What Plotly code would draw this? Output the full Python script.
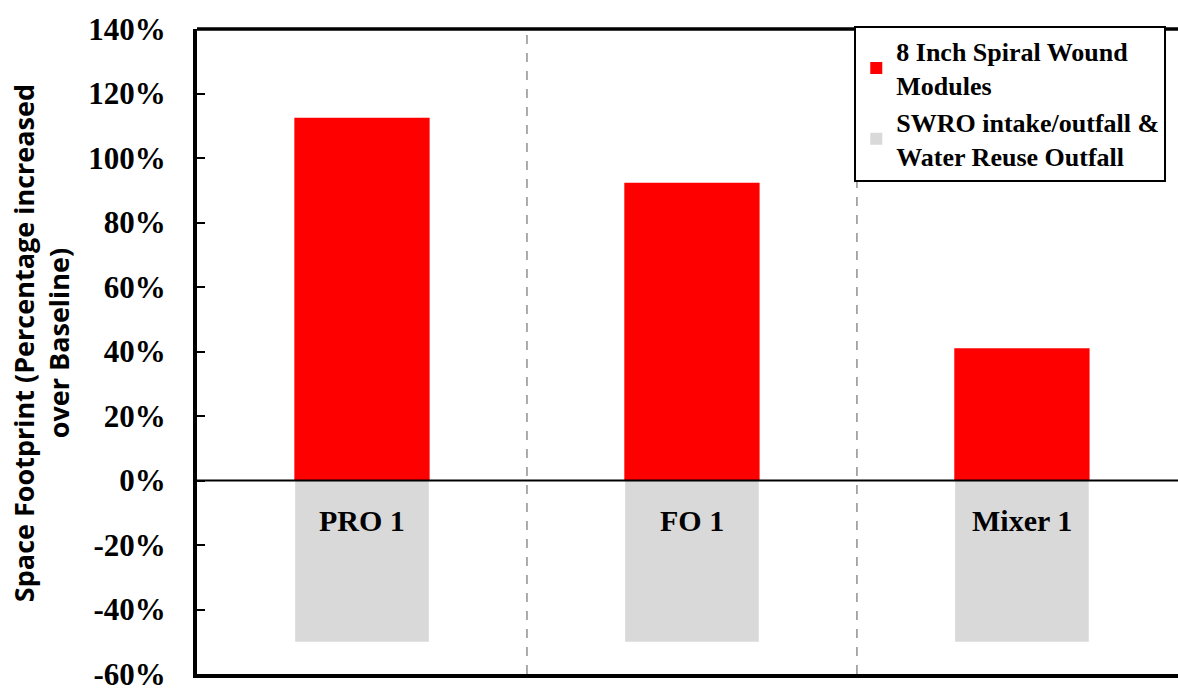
import plotly.graph_objects as go

categories = ["PRO 1", "FO 1", "Mixer 1"]
modules = [112.5, 92.3, 41.0]
intake = [-50.0, -50.0, -50.0]
yticks = [-60, -40, -20, 0, 20, 40, 60, 80, 100, 120, 140]
ytick_text = [f"{v}%" for v in yticks]

xs = list(range(len(categories)))

fig = go.Figure()
fig.add_trace(go.Bar(x=xs, y=modules, width=0.41, marker_color="#FF0000",
                     marker_line_width=0,
                     name="8 Inch Spiral Wound<br>Modules"))
fig.add_trace(go.Bar(x=xs, y=intake, width=0.405, marker_color="#D9D9D9",
                     marker_line_width=0,
                     name="SWRO intake/outfall &amp;<br>Water Reuse Outfall"))

for i, c in enumerate(categories):
    fig.add_annotation(x=i, y=-12.5, text=f"<b>{c}</b>", showarrow=False,
                       font=dict(family="Liberation Serif", size=30, color="black"),
                       xanchor="center", yanchor="middle")

# dashed category separators
for b in [0.5, 1.5]:
    fig.add_shape(type="line", x0=b, x1=b, xref="x", y0=0, y1=1, yref="paper",
                  line=dict(color="#7F7F7F", width=1.3, dash="dash"), layer="below")
# zero line above bars
fig.add_shape(type="line", x0=0, x1=1, xref="paper", y0=0, y1=0, yref="y",
              line=dict(color="black", width=2), layer="above")
# top border
fig.add_shape(type="line", x0=0, x1=1, xref="paper", y0=1, y1=1, yref="paper",
              line=dict(color="black", width=3.5), layer="above")

fig.add_annotation(xref="paper", yref="paper", x=-0.159, y=0.513,
                   text="<b>Space Footprint (Percentage increased<br>over Baseline)</b>",
                   textangle=-90, showarrow=False,
                   font=dict(family="Open Sans", size=27, color="black"),
                   xanchor="center", yanchor="middle")

fig.update_layout(
    width=1178, height=691,
    margin=dict(l=197, r=0, t=29, b=17, autoexpand=False),
    plot_bgcolor="white", paper_bgcolor="white",
    barmode="relative",
    showlegend=True,
    legend=dict(x=0.670, y=1.005, xanchor="left", yanchor="top",
                bgcolor="white", bordercolor="black", borderwidth=2,
                font=dict(family="Liberation Serif", size=26, color="black", weight="bold"),
                tracegroupgap=0, itemsizing="constant"),
    xaxis=dict(range=[-0.5, 2.473], showticklabels=False, ticks="",
               showgrid=False, zeroline=False,
               showline=True, linecolor="black", linewidth=4),
    yaxis=dict(range=[-60, 140], tickvals=yticks, ticktext=ytick_text,
               tickfont=dict(family="Liberation Serif", size=31, color="black", weight="bold"),
               ticks="inside", ticklen=8, tickwidth=2, tickcolor="black",
               ticklabeloverflow="allow",
               showgrid=False, zeroline=False,
               showline=True, linecolor="black", linewidth=4, ticklabelstandoff=21),
)

fig.write_html("out.html", config={"displayModeBar": False},
               post_script="document.body.style.margin='0';document.body.style.padding='0';")
